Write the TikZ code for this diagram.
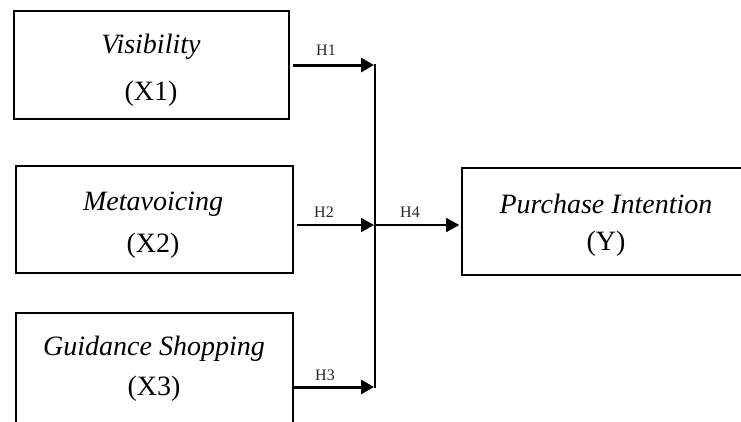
\documentclass[tikz,border=0pt]{standalone}
\usepackage{fontspec}
\setmainfont{Liberation Serif}
\usetikzlibrary{arrows.meta}

\tikzset{
  box/.style={draw=black, line width=1.6pt, rectangle, inner sep=0pt},
  txt/.style={inner sep=0pt, font=\fontsize{28}{32}\selectfont, anchor=base},
  hlbl/.style={inner sep=0pt, font=\fontsize{16}{18}\selectfont, anchor=base, text=black!85},
  boldarrow/.style={line width=3pt, -{Triangle[length=13pt,width=14pt]}, shorten >=1pt},
  normarrow/.style={line width=1.7pt, -{Triangle[length=13pt,width=14pt]}, shorten >=1pt},
  joinline/.style={line width=1.8pt}
}

\begin{document}
\begin{tikzpicture}[x=1pt, y=-1pt]
  \useasboundingbox (0,0) rectangle (741,421);
  \clip (0,0) rectangle (741,421);
  \fill[white] (0,0) rectangle (741,421);

  % construct boxes
  \node[box, minimum width=275pt, minimum height=108pt] (b1) at (151.5,65) {};
  \node[box, minimum width=277pt, minimum height=107pt] (b2) at (154.5,219.5) {};
  \node[box, minimum width=277pt, minimum height=134pt] (b3) at (154.5,380) {};
  \node[box, minimum width=290pt, minimum height=107pt] (by) at (607,221.5) {};

  % box texts
  \node[txt] (t1a) at (151,53) {\textit{Visibility}};
  \node[txt] (t1b) at (151,100) {(X1)};
  \node[txt] (t2a) at (153,210) {\textit{Metavoicing}};
  \node[txt] (t2b) at (153,252) {(X2)};
  \node[txt] (t3a) at (154,355) {\textit{Guidance Shopping}};
  \node[txt] (t3b) at (154,395) {(X3)};
  \node[txt] (tya) at (606,213) {\textit{Purchase Intention}};
  \node[txt] (tyb) at (606,250) {(Y)};

  % junction points on the collecting line
  \coordinate (jtop) at (375,65);
  \coordinate (jmid) at (375,225);
  \coordinate (jbot) at (375,387);

  % collecting line
  \draw[joinline] ([yshift=0.9pt]jtop) -- ([yshift=-0.9pt]jbot);

  % hypothesis arrows
  \draw[boldarrow, shorten <=3pt] (b1.east) -- (jtop);
  \draw[normarrow, shorten <=3pt] (jmid -| b2.east) -- (jmid);
  \draw[boldarrow] (jbot -| b3.east) -- (jbot);
  \draw[normarrow, shorten >=2pt] (jmid) -- (jmid -| by.west);

  % hypothesis labels
  \node[hlbl] (h1) at (326,55) {H1};
  \node[hlbl] (h2) at (324,217) {H2};
  \node[hlbl] (h3) at (325,380) {H3};
  \node[hlbl] (h4) at (410,217) {H4};
\end{tikzpicture}
\end{document}
